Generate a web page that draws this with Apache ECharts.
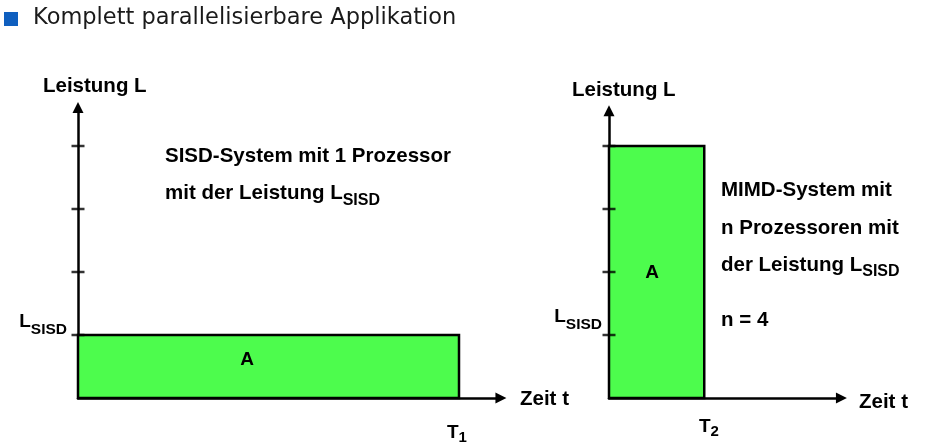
<!DOCTYPE html>
<html><head><meta charset="utf-8">
<script src="https://cdn.jsdelivr.net/npm/echarts@6/dist/echarts.min.js"></script>
<style>html,body{margin:0;padding:0;background:#fff}#c{width:939px;height:445px}</style>
</head><body><div id="c"></div>
<script>
// ---- data ----
const durations = [4, 1];          // T1 (SISD), T2 (MIMD) in time units
const levels = [1, 4];             // performance: L_SISD, n*L_SISD (n = 4)
const tickValues = [1, 2, 3, 4];   // y tick marks (multiples of L_SISD)
const yLabelMain = 'L', yLabelSub = 'SISD';
const xLabelMain = 'T', xLabelSubs = ['1', '2'];
const xMax = [4.44, 2.44];
const yMax = [4.61, 4.56];

const UX = 95.25, UY = 63, X0 = [78, 609], Y0 = 398;
const BOLD = '"Liberation Sans", Arial, sans-serif';
const ctx = document.createElement('canvas').getContext('2d');
function tw(t, size) { ctx.font = 'bold ' + size + 'px "Liberation Sans"'; return ctx.measureText(t).width; }
function txt(x, cc, s, size, align, opts) {
  opts = opts || {};
  const fam = opts.family || BOLD;
  const adj = opts.adj !== undefined ? opts.adj : 0.05 * size;
  return { type: 'text', x: x, y: cc + adj, silent: true, z: 100, zlevel: 0,
    style: { text: s, fontSize: size, fontWeight: opts.weight || 'bold', fontFamily: fam,
      fill: opts.color || '#000', align: align || 'left', textAlign: align || 'left',
      verticalAlign: 'middle', textVerticalAlign: 'middle' } };
}
function subText(x, cc, main, sub, ms, ss, drop, anchor) {
  const wm = tw(main, ms), ws = tw(sub, ss);
  const left = anchor === 'right' ? x - wm - ws : x;
  return [txt(left, cc, main, ms, 'left'), txt(left + wm, cc + drop, sub, ss, 'left')];
}

const graphics = [
  { type: 'rect', z: 100, shape: { x: 4, y: 12, width: 14, height: 14 }, style: { fill: '#0f5fbf' }, silent: true },
  txt(33, 16.5, 'Komplett parallelisierbare Applikation', 22.5, 'left', { family: '"DejaVu Sans", Verdana, sans-serif', weight: 'normal', color: '#1a1a1a', adj: 1.5 }),
  txt(43, 85, 'Leistung L', 20.5),
  txt(572, 89, 'Leistung L', 20.5),
  txt(165, 155.5, 'SISD-System mit 1 Prozessor', 20.5),
  ...subText(165, 192, 'mit der Leistung L', yLabelSub, 20.5, 16, 7.5, 'left'),
  txt(721, 189.5, 'MIMD-System mit', 20.5),
  txt(721, 227, 'n Prozessoren mit', 20.5),
  ...subText(721, 264, 'der Leistung L', yLabelSub, 20.5, 16, 7, 'left'),
  txt(721, 319.5, 'n = 4', 20.5),
  txt(247, 358.5, 'A', 19, 'center'),
  txt(652, 272, 'A', 19, 'center'),
  ...subText(67, 320.5, yLabelMain, yLabelSub, 19, 15.5, 8.5, 'right'),
  ...subText(602, 316, yLabelMain, yLabelSub, 19, 15.5, 7.5, 'right'),
  txt(520, 398, 'Zeit t', 20.5),
  txt(859, 401, 'Zeit t', 20.5),
  ...subText(447, 431.5, xLabelMain, xLabelSubs[0], 19, 15, 6, 'left'),
  ...subText(699, 426, xLabelMain, xLabelSubs[1], 19, 15, 5.5, 'left')
];

const axisLine = { show: true, symbol: ['none', 'triangle'], symbolSize: [11, 11],
  lineStyle: { color: '#000', width: 2.5 } };
const hidden = { axisTick: { show: false }, axisLabel: { show: false }, splitLine: { show: false } };

const grids = [0, 1].map(i => ({ left: X0[i], top: Y0 - yMax[i] * UY, width: xMax[i] * UX, height: yMax[i] * UY }));
const xAxes = [0, 1].map(i => Object.assign({ type: 'value', gridIndex: i, min: 0, max: xMax[i], axisLine }, hidden));
const yAxes = [0, 1].map(i => Object.assign({ type: 'value', gridIndex: i, min: 0, max: yMax[i], axisLine }, hidden));

const series = [];
[0, 1].forEach(i => {
  series.push({
    type: 'custom', xAxisIndex: i, yAxisIndex: i, clip: false, z: 2, silent: true,
    data: [[0, durations[i], levels[i]]],
    encode: { x: [0, 1], y: 2 },
    renderItem: function (params, api) {
      const p0 = api.coord([api.value(0), api.value(2)]);
      const p1 = api.coord([api.value(1), 0]);
      return { type: 'rect', shape: { x: p0[0], y: p0[1], width: p1[0] - p0[0], height: p1[1] - p0[1] },
        style: { fill: '#4dfc4d', stroke: '#000', lineWidth: 2.5 } };
    }
  });
  series.push({
    type: 'scatter', xAxisIndex: i, yAxisIndex: i, z: 4, silent: true, clip: false,
    symbol: 'rect', symbolSize: [13, 2.5], itemStyle: { color: '#000' },
    data: tickValues.map(v => [0, v])
  });
});

const chart = echarts.init(document.getElementById('c'), null, { renderer: 'canvas' });
chart.setOption({ animation: false, backgroundColor: '#fff', grid: grids, xAxis: xAxes, yAxis: yAxes, series,
  graphic: { elements: graphics } });
</script></body></html>
